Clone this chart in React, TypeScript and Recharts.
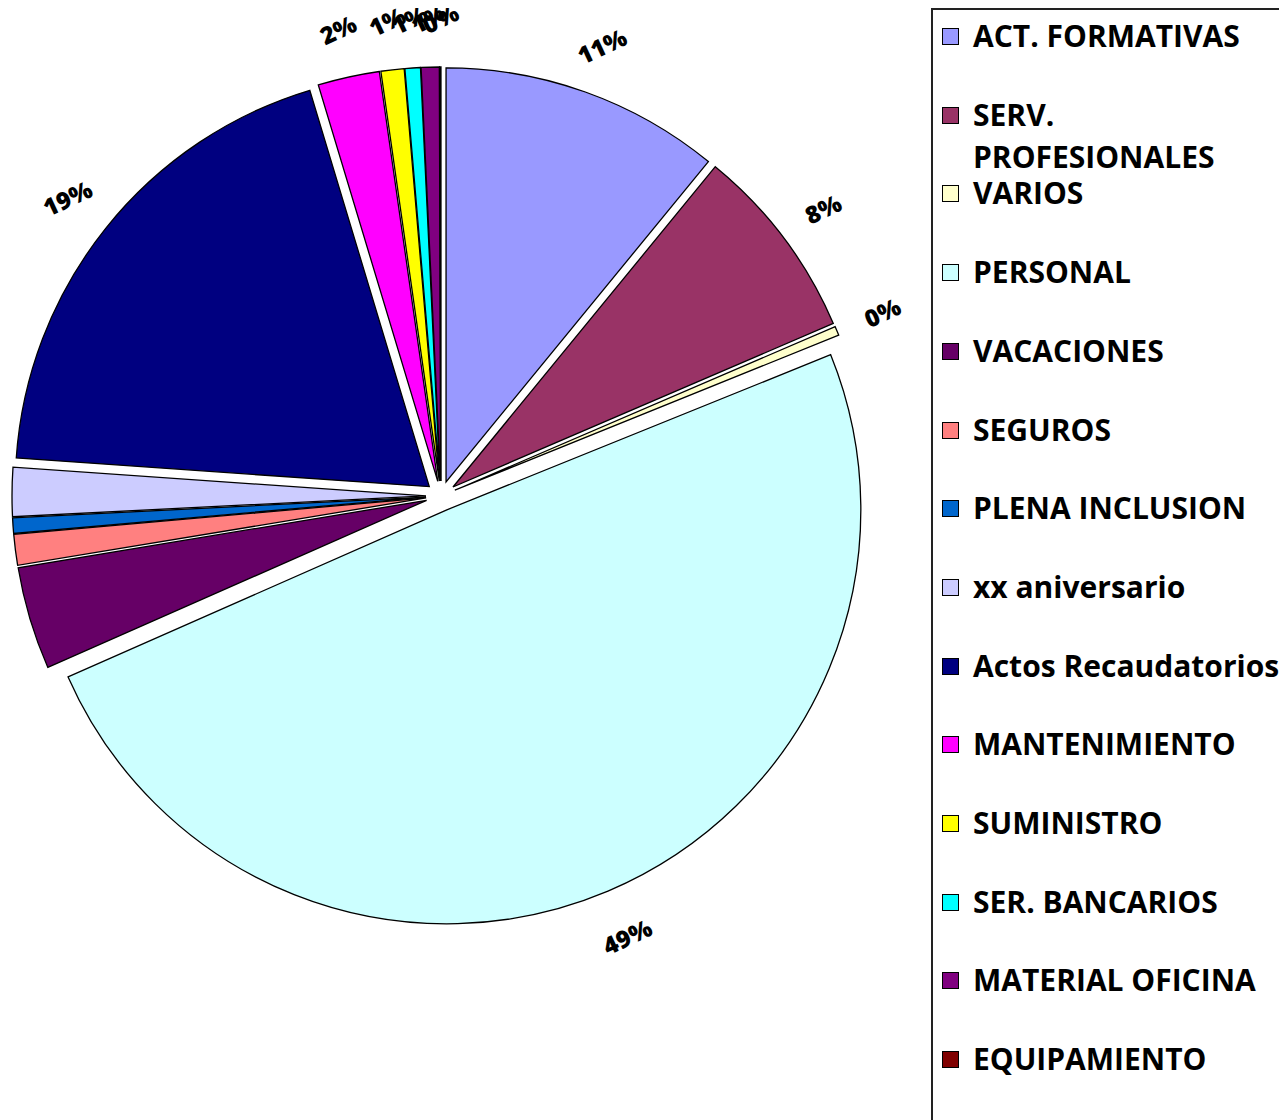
import React from 'react';
import { PieChart, Pie, Cell, Sector, Legend } from 'recharts';

const categories = [
  'ACT. FORMATIVAS',
  'SERV. PROFESIONALES',
  'VARIOS',
  'PERSONAL',
  'VACACIONES',
  'SEGUROS',
  'PLENA INCLUSION',
  'xx aniversario',
  'Actos Recaudatorios',
  'MANTENIMIENTO',
  'SUMINISTRO',
  'SER. BANCARIOS',
  'MATERIAL OFICINA',
  'EQUIPAMIENTO',
];

const values = [10.9, 7.6, 0.35, 49.4, 4.0, 1.2, 0.6, 1.9, 19.2, 2.4, 0.9, 0.6, 0.7, 0.05];

const colors = [
  '#9999FF',
  '#993366',
  '#FFFFCC',
  '#CCFFFF',
  '#660066',
  '#FF8080',
  '#0066CC',
  '#CCCCFF',
  '#000080',
  '#FF00FF',
  '#FFFF00',
  '#00FFFF',
  '#800080',
  '#800000',
];

const data = categories.map((name, i) => ({ name, value: values[i] }));

const RAD = Math.PI / 180;
const EXPLODE = 15;
const FONT = '"Open Sans", Lato, sans-serif';

const renderSector = (props: any) => {
  const { cx, cy, startAngle, endAngle } = props;
  const mid = props.midAngle != null ? props.midAngle : (startAngle + endAngle) / 2;
  const dx = EXPLODE * Math.cos(-mid * RAD);
  const dy = EXPLODE * Math.sin(-mid * RAD);
  return (
    <Sector
      cx={cx + dx}
      cy={cy + dy}
      innerRadius={0}
      outerRadius={props.outerRadius}
      startAngle={startAngle}
      endAngle={endAngle}
      fill={props.fill}
      stroke="#000"
      strokeWidth={1.3}
    />
  );
};

const renderLabel = (props: any) => {
  const { cx, cy, midAngle, outerRadius, percent } = props;
  const r = outerRadius + 64;
  const x = cx + r * Math.cos(-midAngle * RAD);
  const y = cy + r * Math.sin(-midAngle * RAD);
  return (
    <text
      x={x}
      y={y}
      textAnchor="middle"
      dominantBaseline="central"
      transform={`rotate(-25, ${x}, ${y})`}
      fontFamily={FONT}
      fontWeight={800}
      fontSize={24}
      fill="#000"
    >
      {`${Math.round(percent * 100)}%`}
    </text>
  );
};

const LegendBox = () => (
  <div
    style={{
      position: 'relative',
      width: 356,
      height: 1130,
      border: '2px solid #222',
      boxSizing: 'border-box',
      background: '#fff',
      fontFamily: FONT,
      fontWeight: 700,
      fontSize: 30,
      color: '#000',
    }}
  >
    {categories.map((name, i) => (
      <div
        key={name}
        style={{
          position: 'absolute',
          left: 0,
          top: 5 + 78.7 * i,
          width: 352,
          display: 'flex',
          alignItems: 'flex-start',
        }}
      >
        <div
          style={{
            width: 15,
            height: 15,
            marginLeft: 9,
            marginTop: 13,
            background: colors[i],
            border: '1.5px solid #000',
            flex: '0 0 auto',
          }}
        />
        <div
          style={{
            marginLeft: 14,
            lineHeight: '42px',
            width: 312,
            whiteSpace: 'normal',
          }}
        >
          {name}
        </div>
      </div>
    ))}
  </div>
);

export default function App() {
  return (
    <div style={{ marginLeft: -8, marginTop: -8, width: 1287, height: 1120, background: '#fff', overflow: 'hidden' }}>
      <PieChart width={1287} height={1120} margin={{ top: 0, right: 0, bottom: 0, left: 0 }}>
        <Pie
          data={data}
          dataKey="value"
          nameKey="name"
          cx={441}
          cy={496}
          outerRadius={414}
          startAngle={90}
          endAngle={-270}
          isAnimationActive={false}
          label={renderLabel}
          labelLine={false}
          shape={renderSector}
          activeShape={renderSector}
          inactiveShape={renderSector}
          stroke="#000"
        >
          {data.map((d, i) => (
            <Cell key={d.name} fill={colors[i]} />
          ))}
        </Pie>
        <Legend
          layout="vertical"
          verticalAlign="top"
          align="right"
          wrapperStyle={{ left: 931, top: 8, width: 356, height: 1130 }}
          content={() => <LegendBox />}
        />
      </PieChart>
    </div>
  );
}
